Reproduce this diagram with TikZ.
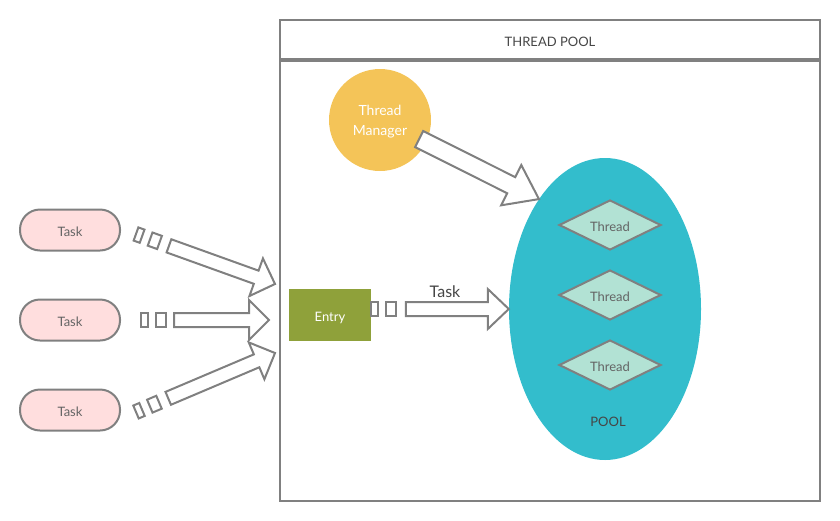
\documentclass[tikz,border=0pt]{standalone}
\usepackage{fontspec}
\setmainfont{Lato}
\usepackage{tikz}
\usetikzlibrary{calc,shapes.geometric}
\definecolor{linegray}{RGB}{128,128,128}
\definecolor{textgray}{RGB}{100,100,100}
\definecolor{labelgray}{RGB}{70,70,70}
\definecolor{taskpink}{RGB}{255,222,222}
\definecolor{mgryellow}{RGB}{244,196,88}
\definecolor{entrygreen}{RGB}{143,161,58}
\definecolor{poolcyan}{RGB}{51,189,204}
\definecolor{threadmint}{RGB}{178,226,212}

% block arrow: tip at the origin, pointing along +x
\tikzset{
  pics/blockarrow/.style n args={4}{code={
    \draw[arrow line] (0,0) -- (-#4,#3) -- (-#4,#2) -- (-#1,#2)
        -- (-#1,-#2) -- (-#4,-#2) -- (-#4,-#3) -- cycle;
  }},
  pics/tailboxes/.style={code={
    \draw[arrow line] (0,-7) rectangle (6.5,7);
    \draw[arrow line] (15,-7) rectangle (25,7);
  }}
}

\begin{document}
\begin{tikzpicture}[x=1pt,y=-1pt,font=\fontsize{13}{15}\selectfont]
\tikzstyle{one line}=[text height=13pt,text depth=0pt]
\tikzstyle{frame box}=[draw=linegray,line width=2pt,minimum width=540pt,inner sep=0]
\tikzstyle{task node}=[one line,draw=linegray,line width=2pt,fill=taskpink,rounded corners=20pt,
                       minimum width=100pt,minimum height=41pt,text=textgray]
\tikzstyle{thread node}=[one line,diamond,aspect=2,draw=linegray,line width=2pt,fill=threadmint,
                         minimum width=102pt,minimum height=50pt,inner sep=0,text=textgray]
\tikzstyle{arrow line}=[draw=linegray,line width=2pt,fill=white,line join=miter]

\useasboundingbox (0,0) rectangle (840,520);

% thread pool frame
\node(header)[frame box,one line,minimum height=39pt,text=labelgray] at (550,39.5) {THREAD POOL};
\node(body)[frame box,minimum height=440pt,anchor=north] at (header.south) {};

% incoming tasks
\node(task1)[task node] at (70,230) {Task};
\node(task2)[task node] at (70,320) {Task};
\node(task3)[task node] at (70,410) {Task};

\node(manager)[circle,fill=mgryellow,minimum size=102pt] at (380,120) {};
\node(manager text)[text=white,align=center,font=\fontsize{14}{20}\selectfont]
     at ([yshift=-2pt]manager.center) {Thread\\Manager};
\node(entry)[one line,fill=entrygreen,minimum width=82pt,minimum height=52pt,text=white] at (330,315) {Entry};

% the pool and its threads
\node(pool)[ellipse,fill=poolcyan,minimum width=192pt,minimum height=302pt,inner sep=0] at (605,309) {};
\node(thread1)[thread node] at (610,225) {Thread};
\node(thread2)[thread node] at (610,295) {Thread};
\node(thread3)[thread node] at (610,365) {Thread};
\node(pool label)[one line,text=labelgray] at (608,420) {POOL};

% arrows
\coordinate(in1 start) at (136,234);
\coordinate(in1 tip) at (275,284);
\coordinate(in2 start) at ($(task2.east)+(20,0)$);
\coordinate(in2 tip) at ($(body.west |- task2.east)+(-10,0)$);
\coordinate(in3 start) at (136,412);
\coordinate(in3 tip) at (275,353);
\coordinate(mgr tail) at ($(manager.center)+(40,19.5)$);

\path (in1 start) -- (in1 tip) pic[pos=0,sloped]{tailboxes} pic[pos=1,sloped]{blockarrow={112.7}{7}{20}{20}};
\path (in2 start) -- (in2 tip) pic[pos=0,sloped]{tailboxes} pic[pos=1,sloped]{blockarrow={95}{7}{20}{20}};
\path (in3 start) -- (in3 tip) pic[pos=0,sloped]{tailboxes} pic[pos=1,sloped]{blockarrow={116}{7}{20}{20}};

\path (entry.east |- pool.west) -- (pool.west) pic[pos=0,sloped]{tailboxes} pic[pos=1,sloped]{blockarrow={103}{7}{20}{21}};
\node(task label)[text=labelgray,font=\fontsize{16}{19}\selectfont] at (445,292) {Task};

\path (mgr tail) -- (pool.121) pic[pos=1,sloped]{blockarrow={134}{9}{22.5}{31}};

\end{tikzpicture}
\end{document}
